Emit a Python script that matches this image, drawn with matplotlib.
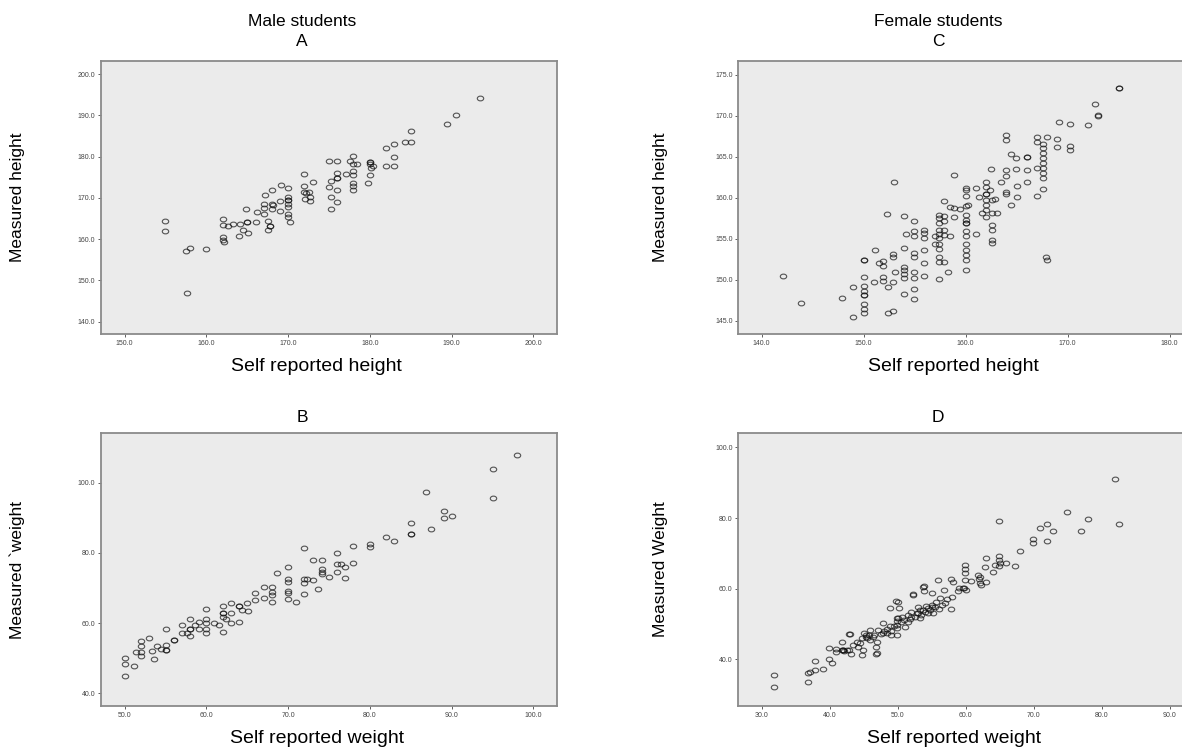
import matplotlib
matplotlib.use("Agg")
import matplotlib.pyplot as plt
from matplotlib.path import Path
from matplotlib.transforms import Affine2D
import numpy as np

plt.rcParams['font.family'] = ['Liberation Sans', 'DejaVu Sans']

# (self reported, measured) pairs
male_height = [
    (154.9, 164.5), (154.9, 161.9), (157.5, 157.1), (158.0, 157.9), (157.6, 147.0),
    (160.0, 157.6), (162.0, 164.9), (162.0, 163.5), (162.0, 160.5), (162.2, 159.4),
    (162.7, 163.1), (163.2, 163.6), (162.0, 159.9), (164.0, 160.8), (164.1, 163.7),
    (164.5, 162.1), (165.1, 161.6), (165.0, 164.2), (165.0, 164.2), (164.9, 167.4),
    (166.1, 164.1), (166.2, 166.5), (167.0, 166.1), (167.2, 170.6), (167.0, 168.5),
    (167.0, 167.6), (167.6, 164.3), (167.6, 162.3), (167.8, 163.1), (167.8, 163.1),
    (168.0, 171.9), (168.0, 168.6), (168.0, 167.4), (168.2, 168.3), (169.1, 173.2),
    (169.0, 169.3), (169.0, 166.7), (170.0, 172.3), (170.0, 170.3), (170.0, 169.5),
    (170.0, 169.5), (170.0, 168.6), (170.0, 167.8), (170.0, 166.2), (170.0, 165.4),
    (170.2, 164.2), (172.0, 175.8), (172.0, 172.9), (171.9, 171.5), (172.2, 171.2),
    (172.6, 171.5), (172.7, 170.3), (172.7, 169.3), (173.1, 173.9), (172.1, 169.7),
    (175.0, 178.9), (176.0, 178.9), (175.0, 172.7), (175.3, 170.3), (176.0, 169.0),
    (175.3, 167.2), (175.2, 174.1), (176.0, 176.1), (176.0, 174.9), (176.0, 174.9),
    (176.0, 172.0), (177.1, 175.9), (177.6, 178.9), (178.0, 180.1), (178.0, 178.2),
    (178.4, 178.2), (178.0, 176.6), (178.0, 175.5), (178.0, 173.6), (178.0, 172.9),
    (178.0, 172.0), (180.0, 178.8), (180.0, 178.8), (180.0, 178.2), (180.2, 177.3),
    (180.4, 177.7), (180.0, 175.5), (179.8, 173.5), (182.0, 182.0), (182.0, 177.8),
    (183.0, 183.0), (183.0, 180.0), (183.0, 177.7), (184.3, 183.6), (185.0, 186.2),
    (185.0, 183.5), (189.5, 187.9), (190.5, 190.0), (193.5, 194.2),
]

male_weight = [
    (50.0, 50.2), (50.0, 48.3), (50.0, 45.0), (51.2, 47.9), (51.4, 51.9),
    (52.0, 55.0), (52.0, 53.6), (52.0, 51.9), (52.0, 50.6), (53.0, 55.8),
    (53.3, 52.0), (53.6, 49.9), (54.0, 53.6), (54.4, 52.7), (55.0, 53.8),
    (55.0, 52.2), (55.0, 52.2), (55.0, 58.2), (56.0, 55.1), (56.0, 55.1),
    (57.0, 59.4), (57.0, 57.1), (57.6, 57.3), (58.0, 58.3), (58.0, 58.3),
    (58.0, 61.3), (58.0, 56.4), (58.6, 59.4), (59.1, 60.2), (59.1, 58.2),
    (60.0, 64.1), (60.0, 61.1), (60.0, 60.1), (60.0, 57.1), (60.0, 58.2),
    (60.9, 60.1), (61.6, 59.4), (62.0, 64.9), (62.0, 62.8), (62.0, 62.8),
    (62.0, 61.6), (62.0, 57.6), (62.4, 61.1), (63.0, 65.6), (63.0, 63.0),
    (63.0, 60.1), (64.0, 64.9), (64.0, 64.9), (64.0, 60.2), (64.3, 63.7),
    (65.0, 65.6), (65.1, 63.3), (66.0, 68.5), (66.0, 66.6), (67.0, 70.2),
    (67.0, 67.1), (68.0, 70.2), (68.0, 68.9), (68.0, 68.0), (68.0, 66.1),
    (68.6, 74.2), (70.0, 76.1), (70.0, 72.6), (70.0, 71.6), (70.0, 69.2),
    (70.0, 68.5), (70.0, 66.8), (71.0, 66.1), (72.0, 81.5), (72.0, 72.6),
    (72.0, 71.3), (72.0, 68.3), (72.3, 72.5), (73.0, 72.3), (73.1, 78.0),
    (73.6, 69.6), (74.1, 78.0), (74.1, 75.4), (74.1, 74.6), (74.1, 73.9),
    (75.0, 73.2), (76.0, 79.9), (76.0, 76.7), (76.0, 74.4), (76.5, 76.7),
    (77.0, 75.9), (77.0, 72.9), (78.0, 82.0), (78.0, 77.2), (80.0, 82.4),
    (80.0, 81.6), (82.0, 84.4), (83.0, 83.4), (85.0, 88.4), (85.0, 85.4),
    (85.0, 85.4), (86.9, 97.2), (87.5, 86.8), (89.1, 92.0), (89.1, 89.8),
    (90.1, 90.6), (95.1, 103.9), (95.1, 95.7), (98.0, 107.7),
]

female_height = [
    (142.1, 150.5), (143.9, 147.2), (147.9, 147.8), (149.0, 149.1), (149.0, 145.5),
    (150.0, 152.4), (150.0, 152.4), (150.0, 150.4), (150.0, 149.2), (150.0, 148.6),
    (150.0, 148.2), (150.0, 148.2), (150.0, 147.1), (150.0, 146.5), (150.0, 145.9),
    (151.0, 149.7), (151.1, 153.6), (151.5, 152.1), (151.9, 152.3), (151.9, 151.7),
    (151.9, 150.3), (151.9, 149.9), (152.4, 149.1), (152.4, 145.9), (152.9, 146.2),
    (152.9, 153.2), (152.9, 152.8), (152.9, 149.7), (153.1, 150.9), (153.0, 161.9),
    (152.3, 158.0), (154.0, 153.9), (154.0, 151.6), (154.0, 151.2), (154.0, 150.7),
    (154.0, 150.2), (154.0, 148.3), (154.0, 157.8), (154.2, 155.6), (154.9, 157.1),
    (154.9, 155.9), (154.9, 155.3), (154.9, 153.3), (154.9, 152.8), (154.9, 150.9),
    (154.9, 150.2), (154.9, 148.9), (154.9, 147.7), (155.9, 156.1), (155.9, 155.7),
    (155.9, 155.1), (155.9, 153.6), (155.9, 152.0), (155.9, 150.5), (157.0, 155.3),
    (157.0, 154.4), (157.4, 157.9), (157.4, 157.5), (157.4, 156.9), (157.4, 156.1),
    (157.4, 155.6), (157.4, 155.1), (157.4, 154.4), (157.4, 153.8), (157.4, 152.8),
    (157.4, 152.2), (157.4, 150.1), (157.9, 157.8), (157.9, 157.2), (157.9, 156.1),
    (157.9, 155.5), (157.9, 152.2), (157.9, 159.6), (158.3, 150.9), (158.5, 155.3),
    (158.5, 158.9), (158.9, 158.8), (158.9, 157.7), (159.5, 158.6), (158.9, 162.8),
    (160.0, 161.2), (160.0, 160.9), (160.0, 160.2), (160.0, 159.0), (160.0, 157.9),
    (160.0, 157.3), (160.0, 156.9), (160.0, 156.9), (160.0, 155.9), (160.0, 155.3),
    (160.0, 154.3), (160.0, 153.6), (160.0, 153.0), (160.0, 152.4), (160.0, 151.2),
    (160.2, 159.1), (161.0, 161.2), (161.0, 155.6), (161.3, 160.1), (161.6, 158.1),
    (162.0, 161.9), (162.0, 161.3), (162.0, 160.5), (162.0, 160.5), (162.0, 159.7),
    (162.0, 159.1), (162.0, 158.5), (162.0, 157.7), (162.4, 160.9), (162.6, 159.7),
    (162.6, 158.1), (162.6, 156.7), (162.6, 156.1), (162.6, 154.9), (162.6, 154.5),
    (162.9, 159.9), (163.1, 158.1), (162.5, 163.5), (163.5, 161.9), (164.0, 163.4),
    (164.0, 162.6), (164.0, 160.7), (164.0, 160.4), (164.0, 167.6), (164.0, 167.0),
    (164.5, 165.3), (164.9, 164.8), (164.9, 163.5), (165.0, 161.4), (165.0, 160.1),
    (164.5, 159.1), (166.0, 164.9), (166.0, 164.9), (166.0, 163.4), (166.0, 161.9),
    (167.0, 167.4), (167.0, 166.8), (167.0, 160.2), (167.0, 163.6), (167.6, 166.5),
    (167.6, 166.0), (167.6, 165.4), (167.6, 164.8), (167.6, 164.2), (167.6, 163.6),
    (167.6, 163.0), (167.6, 162.4), (167.6, 161.0), (168.0, 167.4), (167.9, 152.8),
    (168.0, 152.4), (169.2, 169.2), (169.0, 167.2), (169.0, 166.2), (170.2, 169.0),
    (170.2, 166.3), (170.2, 165.8), (172.0, 168.9), (172.7, 171.4), (173.0, 170.1),
    (173.0, 169.9), (175.0, 173.3), (175.0, 173.3),
]

female_weight = [
    (31.9, 35.6), (31.9, 32.2), (36.9, 33.6), (36.9, 36.0), (37.1, 36.5),
    (37.8, 37.1), (39.0, 37.2), (37.8, 39.5), (39.9, 40.2), (40.4, 39.0),
    (39.9, 43.1), (41.0, 42.2), (41.0, 43.0), (41.9, 45.0), (41.9, 42.6),
    (42.0, 42.6), (42.0, 42.6), (42.2, 42.4), (42.6, 42.6), (42.9, 42.6),
    (42.9, 47.2), (43.0, 47.2), (43.2, 41.4), (43.5, 44.0), (44.0, 45.0),
    (44.2, 43.6), (44.5, 44.5), (44.7, 45.9), (44.8, 41.2), (44.9, 42.6),
    (45.0, 47.4), (45.4, 46.4), (45.4, 46.8), (45.5, 46.0), (45.8, 46.9),
    (46.0, 48.3), (46.0, 45.5), (46.4, 46.4), (46.5, 47.0), (46.9, 43.6),
    (46.9, 41.6), (47.0, 45.0), (47.0, 41.9), (47.1, 48.3), (47.5, 47.2),
    (47.9, 47.5), (47.9, 50.2), (48.0, 48.0), (48.4, 48.5), (48.5, 47.5),
    (48.9, 49.4), (48.9, 54.4), (49.0, 46.9), (49.0, 48.0), (49.5, 49.5),
    (49.8, 56.5), (49.9, 51.6), (49.9, 50.7), (49.9, 49.7), (49.9, 48.8),
    (49.9, 46.9), (50.0, 56.3), (50.1, 51.6), (50.2, 54.4), (50.5, 50.5),
    (50.6, 52.1), (51.0, 51.0), (51.1, 49.2), (51.5, 52.6), (51.5, 50.5),
    (51.8, 51.3), (52.0, 53.5), (52.0, 52.0), (52.3, 58.5), (52.3, 58.2),
    (52.5, 52.0), (52.8, 53.0), (53.0, 54.9), (53.0, 53.0), (53.3, 51.6),
    (53.3, 54.0), (53.5, 52.5), (53.8, 54.0), (53.8, 60.6), (53.9, 60.8),
    (53.9, 59.4), (54.0, 53.5), (54.2, 55.1), (54.5, 53.0), (54.5, 54.5),
    (54.8, 54.0), (55.0, 54.9), (55.0, 55.5), (55.1, 58.7), (55.2, 53.0),
    (55.5, 54.8), (55.7, 56.3), (56.0, 62.5), (56.1, 54.2), (56.3, 57.3),
    (56.5, 55.5), (56.9, 59.6), (57.0, 56.0), (57.3, 57.0), (57.9, 54.2),
    (57.9, 62.7), (58.0, 57.5), (58.1, 62.0), (58.9, 59.2), (59.1, 60.1),
    (59.6, 60.1), (59.7, 60.1), (59.9, 66.7), (59.9, 65.5), (59.9, 64.4),
    (59.9, 62.5), (60.0, 59.6), (60.8, 62.3), (61.8, 63.9), (62.0, 62.8),
    (62.1, 61.7), (62.1, 63.4), (62.2, 61.1), (63.0, 62.0), (63.0, 68.6),
    (62.9, 66.1), (64.0, 64.8), (64.3, 66.7), (64.9, 69.3), (64.9, 68.1),
    (64.9, 66.3), (65.0, 67.2), (64.9, 79.2), (66.0, 67.4), (67.2, 66.3),
    (68.0, 70.7), (69.9, 74.0), (69.9, 72.9), (70.9, 77.3), (71.9, 78.4),
    (71.9, 73.5), (72.9, 76.2), (74.9, 81.8), (76.9, 76.3), (78.0, 79.8),
    (81.9, 91.2), (82.5, 78.4),
]

# slightly wide open ring, like the original output
ring = Path.unit_circle().transformed(Affine2D().scale(1.35, 1.0))

panels = [
    # data, rect, xlim, ylim, xticks, yticks, xlabel, ylabel, ylabel offset
    (male_height, [0.0854, 0.5541, 0.3858, 0.3645], (147.1, 202.9), (137.0, 203.2),
     np.arange(150, 201, 10), np.arange(140, 201, 10), 'Self reported height', 'Measured height', 0.071),
    (male_weight, [0.0854, 0.0574, 0.3858, 0.3645], (47.1, 102.9), (36.4, 114.1),
     np.arange(50, 101, 10), np.arange(40, 101, 20), 'Self reported weight', 'Measured `weight', 0.071),
    (female_height, [0.6244, 0.5541, 0.3850, 0.3645], (137.7, 182.3), (143.4, 176.65),
     np.arange(140, 181, 10), np.arange(145, 176, 5), 'Self reported height', 'Measured height', 0.066),
    (female_weight, [0.6244, 0.0574, 0.3850, 0.3645], (26.55, 93.45), (26.76, 104.1),
     np.arange(30, 91, 10), np.arange(40, 101, 20), 'Self reported weight', 'Measured Weight', 0.066),
]

fig = plt.figure(figsize=(11.82, 7.49), dpi=100)

for data, rect, xl, yl, xt, yt, xlab, ylab, yoff in panels:
    pts = np.array(data)
    ax = fig.add_axes(rect)
    ax.set_facecolor('#ebebeb')
    ax.plot(pts[:, 0], pts[:, 1], linestyle='none', marker=ring, markersize=4.6,
            markerfacecolor='none', markeredgecolor='#111111', markeredgewidth=0.8, alpha=0.7)
    ax.set_xlim(xl)
    ax.set_ylim(yl)
    ax.set_xticks(xt)
    ax.set_yticks(yt)
    ax.set_xticklabels(['%.1f' % v for v in xt])
    ax.set_yticklabels(['%.1f' % v for v in yt])
    ax.tick_params(labelsize=5, colors='#444444', length=2.5, width=0.6, pad=1.5)
    for s in ax.spines.values():
        s.set_color('#8a8a8a')
        s.set_linewidth(1.3)
    fig.text(rect[0] - yoff, rect[1] + rect[3] / 2, ylab, rotation=90,
             ha='center', va='center', fontsize=12.5)
    fig.text(rect[0] + 0.1825, rect[1] - 0.043, xlab, ha='center', va='center', fontsize=14)

# titles
fig.text(302 / 1182, 1 - 22 / 749, 'Male students', ha='center', va='center', fontsize=12.5)
fig.text(302 / 1182, 1 - 42 / 749, 'A', ha='center', va='center', fontsize=12.5)
fig.text(302 / 1182, 1 - 417 / 749, 'B', ha='center', va='center', fontsize=12.5)
fig.text(938 / 1182, 1 - 22 / 749, 'Female students', ha='center', va='center', fontsize=12.5)
fig.text(938 / 1182, 1 - 42 / 749, 'C', ha='center', va='center', fontsize=12.5)
fig.text(938 / 1182, 1 - 417 / 749, 'D', ha='center', va='center', fontsize=12.5)

fig.savefig('out.png', dpi=100)
